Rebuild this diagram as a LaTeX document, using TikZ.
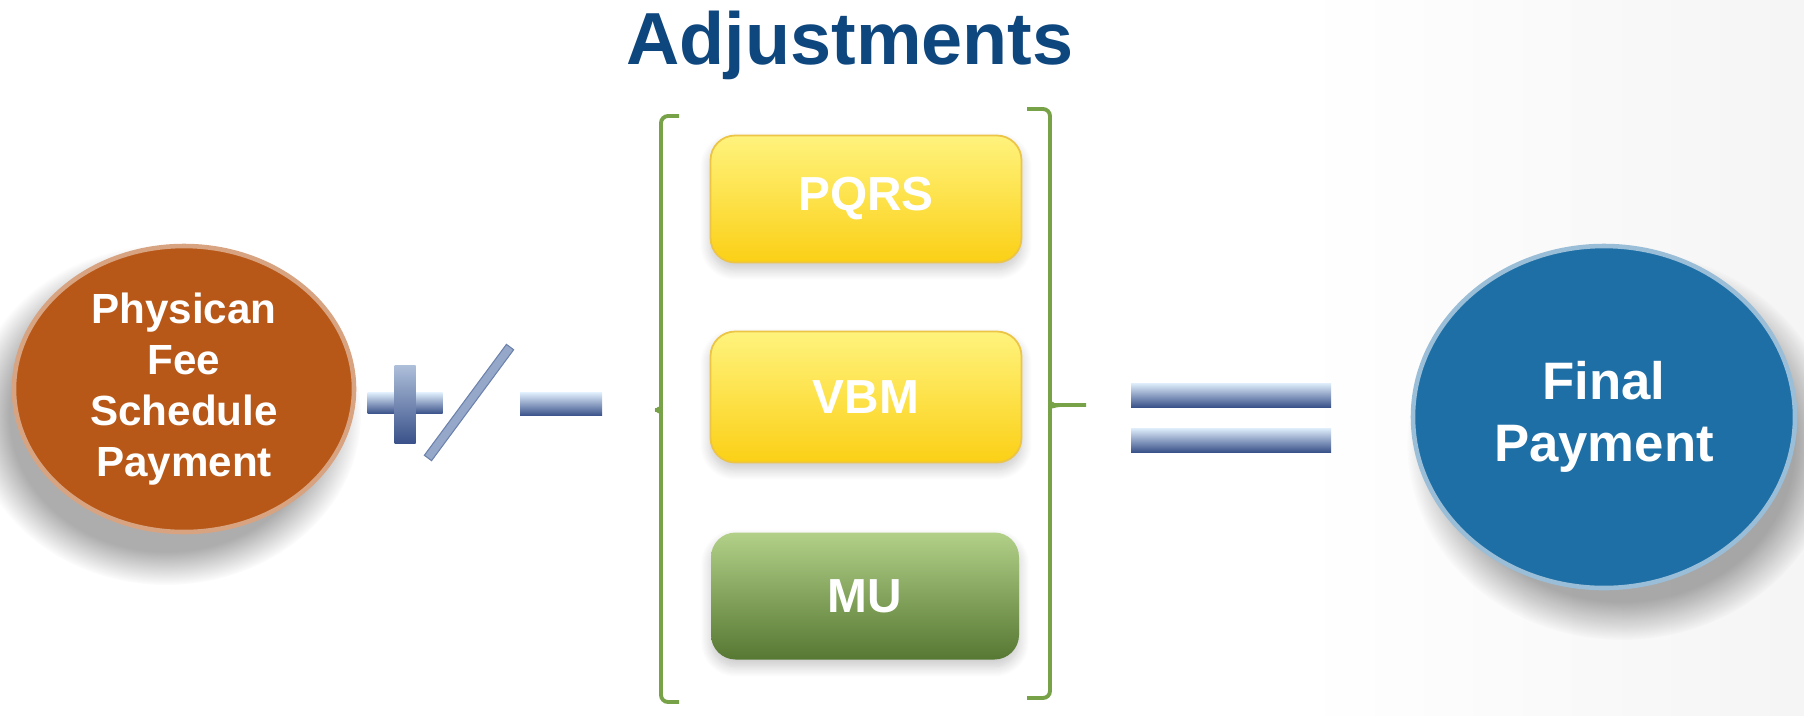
\documentclass[tikz,border=0pt]{standalone}
\usepackage{fontspec}
\setmainfont{Liberation Sans}
\usetikzlibrary{positioning,shapes.geometric,shadows.blur,fadings}
\definecolor{pfsorange}{RGB}{184,88,24}
\definecolor{finalblue}{RGB}{30,111,166}
\definecolor{adjblue}{RGB}{14,70,126}
\definecolor{brgreen}{RGB}{120,162,72}
\definecolor{ylwtop}{RGB}{255,243,125}
\definecolor{ylwbot}{RGB}{251,208,22}
\definecolor{ylwedge}{RGB}{236,196,70}
\definecolor{grntop}{RGB}{178,208,136}
\definecolor{grnbot}{RGB}{86,120,50}
\definecolor{bartop}{RGB}{224,238,252}
\definecolor{barbot}{RGB}{58,82,138}

\tikzset{
  adjbox/.style={rectangle, rounded corners=7pt, minimum width=3.11cm, minimum height=1.27cm,
    text=white, font=\fontsize{13.6}{16}\selectfont\bfseries,
    blur shadow={shadow xshift=0pt, shadow yshift=-2pt, shadow blur radius=3pt,
      shadow blur steps=12, shadow opacity=22}},
  ylwfill/.style={top color=ylwtop, bottom color=ylwbot, draw=ylwedge, line width=0.5pt},
  grnfill/.style={top color=grntop, bottom color=grnbot},
  bigdisc/.style={ellipse, text=white, align=center, inner sep=0pt, line width=1.3pt},
  softshadow/.style={black, opacity=0.32, path fading=circle with fuzzy edge 20 percent},
  bar/.style={rectangle, inner sep=0pt, top color=bartop, bottom color=barbot}
}

\begin{document}
\begin{tikzpicture}
\useasboundingbox (0,0) rectangle (18.04,-7.15);
\fill[left color=white, right color=black!4] (13.0,0) rectangle (18.04,-7.15); %background
  \draw (8.50,-0.45) node[font=\fontsize{21}{25}\selectfont\bfseries, text=adjblue] (adj) {Adjustments};
  %----left disc----%
  \fill[softshadow] (1.66,-4.15) ellipse (1.95 and 1.70);
  \draw (1.84,-3.89) node[bigdisc, minimum width=3.40cm, minimum height=2.86cm, fill=pfsorange,
    draw=pfsorange!55!white, font=\fontsize{12}{14.5}\selectfont\bfseries]
    (pfs) {Physican\\Fee\\Schedule\\Payment};
  %----plus / minus----%
  \draw (4.05,-4.03) node[bar, minimum width=0.75cm, minimum height=0.21cm] (plush) {};
  \draw (4.05,-4.04) node[bar, minimum width=0.21cm, minimum height=0.78cm,
    top color=bartop!70!barbot, bottom color=barbot] (plusv) {};
  \draw (4.69,-4.025) node[rectangle, inner sep=0pt, minimum width=1.38cm, minimum height=0.09cm,
    rotate=53.5, fill=barbot!45!bartop, draw=barbot!70!bartop, line width=0.3pt] (slash) {};
  \draw (5.61,-4.04) node[bar, minimum width=0.82cm, minimum height=0.23cm] (minus) {};
  %----adjustment boxes----%
  \draw (8.66,-1.99) node[adjbox, ylwfill] (pqrs) {PQRS};
  \draw (8.66,-3.97) node[adjbox, ylwfill, minimum height=1.31cm] (vbm) {VBM};
  \draw (8.65,-5.96) node[adjbox, grnfill, minimum width=3.08cm] (mu) {MU};
  %----brackets----%
  \draw[brgreen, line width=1.1pt, rounded corners=2pt] (6.79,-1.16) -- (6.61,-1.16) -- (6.61,-4.02)
    to[out=-90,in=0] (6.51,-4.10) to[out=0,in=90] (6.61,-4.18) -- (6.61,-7.02) -- (6.79,-7.02);
  \draw[brgreen, line width=1.1pt, rounded corners=2pt] (10.27,-1.09) -- (10.50,-1.09) -- (10.50,-3.97)
    to[out=-90,in=180] (10.60,-4.05) -- (10.86,-4.05) (10.60,-4.05) to[out=180,in=90] (10.50,-4.13)
    -- (10.50,-6.98) -- (10.27,-6.98);
  %----equals----%
  \draw (12.31,-3.95) node[bar, minimum width=2.00cm, minimum height=0.24cm] (eqtop) {};
  \draw (12.31,-4.40) node[bar, minimum width=2.00cm, minimum height=0.24cm] (eqbot) {};
  %----right disc----%
  \fill[softshadow] (16.22,-4.45) ellipse (2.15 and 1.95);
  \draw (16.04,-4.17) node[bigdisc, minimum width=3.82cm, minimum height=3.42cm, fill=finalblue,
    draw=finalblue!45!white, font=\fontsize{15}{17.5}\selectfont\bfseries]
    (final) {Final\\Payment};
\end{tikzpicture}
\end{document}
